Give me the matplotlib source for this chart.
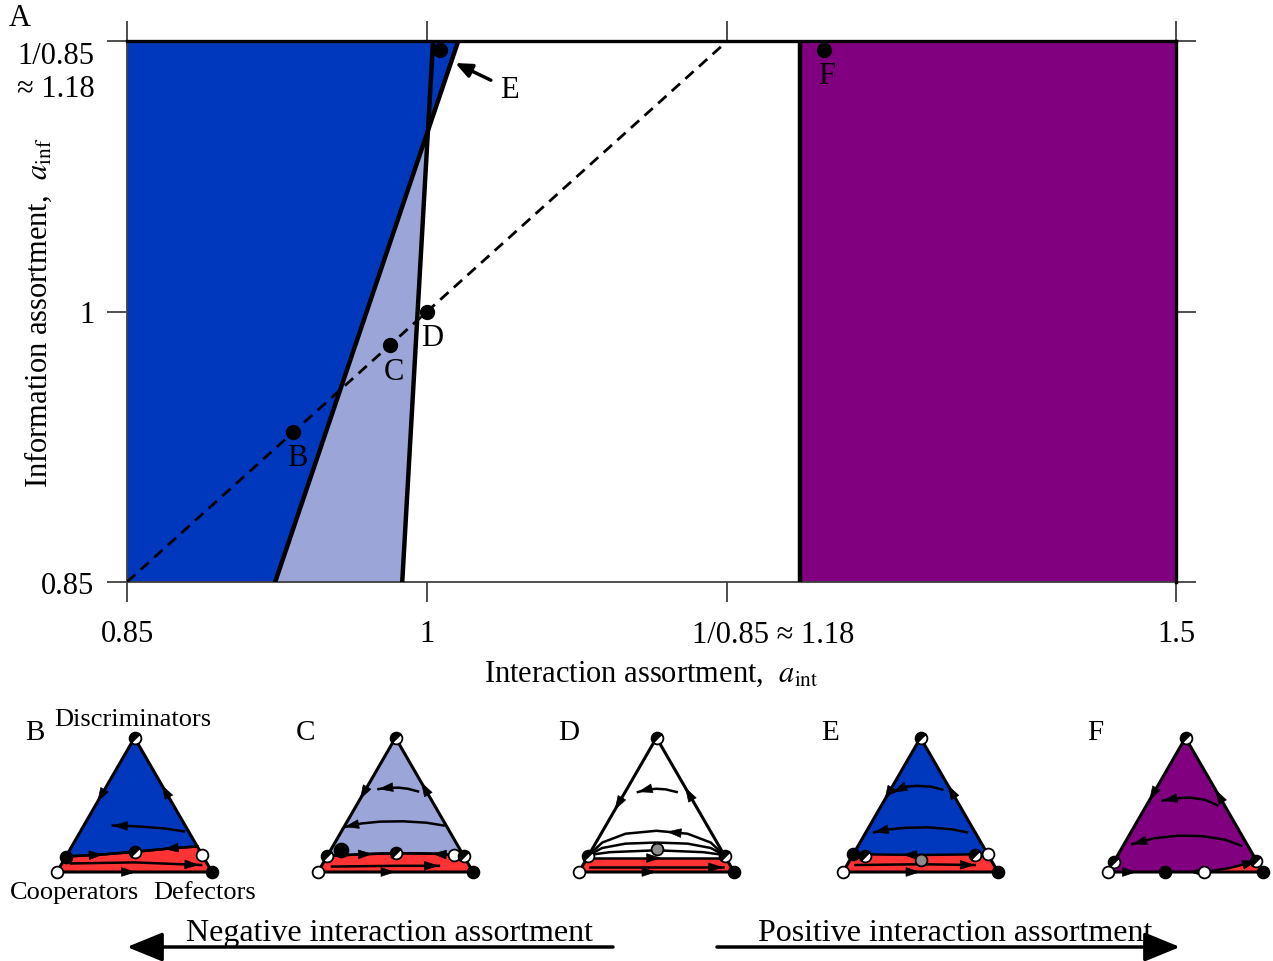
import numpy as np
import matplotlib

matplotlib.use("Agg")
import matplotlib.pyplot as plt
from matplotlib import ticker
from matplotlib.markers import MarkerStyle
from matplotlib.patches import FancyArrowPatch
from matplotlib.transforms import Affine2D

plt.rcParams["font.family"] = ["Liberation Serif", "DejaVu Serif"]
plt.rcParams["mathtext.fontset"] = "stix"

W, H = 1273, 962
BLUE = "#0038bd"
LIGHT = "#9ba5d7"
PURPLE = "#800080"
RED = "#ff3333"
GRID = "#404040"

# ---- panel A: regions in the (a_int, a_inf) plane, both axes logarithmic ----
A_LO = 0.85
A_HI_X = 1.5
A_HI_Y = 1 / 0.85
LINE1_X = [0.921, 1.017]    # dark/light blue boundary, at a_inf = A_LO and A_HI_Y
LINE2_X = [0.9866, 1.0032]  # light blue/white boundary
PURPLE_X0 = 1.224
PT_NAMES = ["B", "C", "D", "E", "F"]
PT_X = [0.93, 0.98, 1.0, 1.007, 1.24]
PT_Y = [0.93, 0.98, 1.0, 1.17, 1.17]
PT_LABEL_OFF = [(4, -25), (4, -26), (5, -26), None, (2, -25)]
E_ARROW_TIP = (1.0153, 1.161)

XTICKS = [0.85, 1.0, 1 / 0.85, 1.5]
XTICK_LABELS = ["0.85", "1", "", "1.5"]
YTICKS = [0.85, 1.0, 1 / 0.85]
YTICK_LABELS = ["0.85", "1", "1/0.85\n\u2248 1.18"]

# ---- panels B-F: phase portraits on the simplex (unit side, coords u, v) ----
S3 = np.sqrt(3) / 2
TOP, BL, BR = (0.5, S3), (0.0, 0.0), (1.0, 0.0)
EDGES = {"left": [TOP, BL], "right": [BR, TOP], "bottom": [BL, BR]}

PANEL_LEFT_PX = [57, 318, 579, 843, 1108]
PANEL_FILL = [BLUE, LIGHT, "white", BLUE, PURPLE]
PANEL_LETTER_U = [-0.14, -0.08, -0.065, -0.085, -0.08]

# upper edge of the red (defector) basin
SEP_B = [(0.058, 0.10), (0.28, 0.112), (0.5, 0.13), (0.74, 0.153), (0.905, 0.165)]
SEP_C = [(0.06, 0.104), (0.3, 0.115), (0.5, 0.122), (0.75, 0.118), (0.94, 0.104)]
SEP_D = [(0.052, 0.09), (0.5, 0.09), (0.948, 0.09)]
SEP_E = [(0.066, 0.115), (0.3, 0.112), (0.5, 0.11), (0.7, 0.112), (0.934, 0.115)]
SEP_F = [(0.62, 0.0), (0.78, 0.025), (0.9, 0.055), (0.958, 0.072)]
SEPS = [SEP_B, SEP_C, SEP_D, SEP_E, SEP_F]

# trajectories: (points, arrowhead position along curve, direction)
FLOWS_B = [
    (SEP_B, 0.25, 1), (SEP_B, 0.78, -1),
    ([(0.09, 0.055), (0.5, 0.062), (0.93, 0.045)], 0.95, 1),
    ([(0.82, 0.262), (0.7, 0.28), (0.58, 0.29), (0.46, 0.297), (0.36, 0.30)], 1.0, 1),
]
FLOWS_C = [
    (SEP_C, 0.3, 1), (SEP_C, 0.8, -1),
    ([(0.09, 0.035), (0.5, 0.04), (0.78, 0.04)], 1.0, 1),
    ([(0.645, 0.52), (0.58, 0.537), (0.52, 0.544), (0.45, 0.543), (0.39, 0.535)], 1.0, 1),
    ([(0.81, 0.30), (0.7, 0.318), (0.55, 0.327), (0.4, 0.325), (0.28, 0.313),
      (0.17, 0.29)], 1.0, 1),
]
FLOWS_D = [
    (SEP_D, 0.5, 1),
    ([(0.07, 0.03), (0.93, 0.03)], 1.0, 1),
    ([(0.065, 0.11), (0.15, 0.19), (0.3, 0.247), (0.5, 0.266), (0.7, 0.247),
      (0.85, 0.19), (0.935, 0.11)], 0.6, -1),
    ([(0.065, 0.11), (0.15, 0.155), (0.3, 0.183), (0.5, 0.19), (0.7, 0.183),
      (0.85, 0.155), (0.935, 0.11)], None, 1),
    ([(0.065, 0.11), (0.2, 0.128), (0.5, 0.14), (0.8, 0.128), (0.935, 0.11)], None, 1),
    ([(0.63, 0.516), (0.56, 0.533), (0.5, 0.537), (0.44, 0.532), (0.38, 0.516)], 1.0, 1),
]
FLOWS_E = [
    (SEP_E, 0.4, -1),
    ([(0.08, 0.045), (0.5, 0.05), (0.85, 0.045)], 1.0, 1),
    ([(0.64, 0.532), (0.57, 0.55), (0.48, 0.556), (0.4, 0.55), (0.32, 0.513)], 1.0, 1),
    ([(0.80, 0.256), (0.7, 0.276), (0.55, 0.288), (0.4, 0.285), (0.28, 0.273),
      (0.2, 0.256)], 1.0, 1),
]
FLOWS_F = [
    (SEP_F, 0.92, 1),
    ([(0.706, 0.43), (0.63, 0.465), (0.53, 0.48), (0.44, 0.476), (0.353, 0.46)], 1.0, 1),
    ([(0.86, 0.17), (0.75, 0.21), (0.6, 0.232), (0.45, 0.234), (0.3, 0.218),
      (0.157, 0.18)], 1.0, 1),
]
FLOWS = [FLOWS_B, FLOWS_C, FLOWS_D, FLOWS_E, FLOWS_F]

# arrowheads on the simplex edges: (edge, position, direction)
EDGE_HEADS_B = [("left", 0.45, 1), ("right", 0.62, 1), ("bottom", 0.48, 1)]
EDGE_HEADS_C = [("left", 0.43, 1), ("right", 0.64, 1), ("bottom", 0.47, 1)]
EDGE_HEADS_D = [("left", 0.51, 1), ("right", 0.60, 1), ("bottom", 0.47, 1)]
EDGE_HEADS_E = [("left", 0.434, 1), ("right", 0.618, 1), ("bottom", 0.47, 1)]
EDGE_HEADS_F = [("left", 0.438, 1), ("right", 0.584, 1), ("bottom", 0.157, 1),
                ("bottom", 0.555, -1)]
EDGE_HEADS = [EDGE_HEADS_B, EDGE_HEADS_C, EDGE_HEADS_D, EDGE_HEADS_E, EDGE_HEADS_F]

# fixed points: (u, v, kind)
DOTS_B = [(0.5, S3, "half"), (0.058, 0.10, "black"), (0.5, 0.13, "half"),
          (0.936, 0.11, "white"), (0, 0, "white"), (1, 0, "black")]
DOTS_C = [(0.5, S3, "half"), (0.06, 0.104, "half"), (0.149, 0.143, "big"),
          (0.5, 0.122, "half"), (0.875, 0.11, "white"), (0.94, 0.104, "half"),
          (0, 0, "white"), (1, 0, "black")]
DOTS_D = [(0.5, S3, "half"), (0.06, 0.105, "half"), (0.94, 0.105, "half"),
          (0.5, 0.148, "gray"), (0, 0, "white"), (1, 0, "black")]
DOTS_E = [(0.5, S3, "half"), (0.066, 0.115, "black"), (0.14, 0.105, "half"),
          (0.5, 0.08, "gray"), (0.85, 0.108, "half"), (0.934, 0.115, "white"),
          (0, 0, "white"), (1, 0, "black")]
DOTS_F = [(0.5, S3, "half"), (0.0375, 0.065, "half"), (0.37, 0, "black"),
          (0.62, 0, "white"), (0.958, 0.072, "half"), (0, 0, "white"), (1, 0, "black")]
DOTS = [DOTS_B, DOTS_C, DOTS_D, DOTS_E, DOTS_F]

SIDE = 155
BASE_PX = 873


def along(pts, t):
    p = np.asarray(pts, float)
    seg = np.diff(p, axis=0)
    seglen = np.hypot(seg[:, 0], seg[:, 1])
    cum = np.cumsum(seglen)
    s = t * cum[-1]
    i = min(int(np.searchsorted(cum, s)), len(seglen) - 1)
    f = (s - (cum[i] - seglen[i])) / seglen[i]
    return p[i] + f * seg[i], seg[i] / seglen[i]


def head(ax, pts, t, sign=1):
    pos, d = along(pts, t)
    d = d * sign
    tip = pos if t >= 1 else pos + 0.03 * d
    ax.annotate("", xy=tip, xytext=tip - 0.05 * d,
                arrowprops=dict(arrowstyle="-|>,head_length=0.8,head_width=0.26",
                                color="k", lw=0.5, shrinkA=0, shrinkB=0,
                                mutation_scale=12), zorder=4)


HALF = MarkerStyle("o", fillstyle="left", transform=Affine2D().rotate_deg(-45))


def dot(ax, u, v, kind):
    kw = dict(ms=8.5, mec="k", mew=1.3, zorder=6, clip_on=False)
    if kind == "half":
        ax.plot(u, v, marker=HALF, mfc="k", markerfacecoloralt="w", **kw)
    elif kind == "big":
        ax.plot(u, v, "o", mfc="k", **{**kw, "ms": 10})
    else:
        face = {"black": "k", "white": "w", "gray": "#8c8c8c"}[kind]
        ax.plot(u, v, "o", mfc=face, **kw)


fig = plt.figure(figsize=(W / 100, H / 100), dpi=100)

# ---------------- panel A ----------------
ax = fig.add_axes([127 / W, 1 - 583 / H, (1176 - 127) / W, (583 - 42) / H])
ax.set_xscale("log")
ax.set_yscale("log")
ax.set_xlim(A_LO, A_HI_X)
ax.set_ylim(A_LO, A_HI_Y)

ax.fill([LINE1_X[0], LINE2_X[0], LINE2_X[1], LINE1_X[1]],
        [A_LO, A_LO, A_HI_Y, A_HI_Y], color=LIGHT, lw=0, zorder=1)
ax.fill([A_LO, LINE1_X[0], LINE1_X[1], A_LO], [A_LO, A_LO, A_HI_Y, A_HI_Y],
        color=BLUE, lw=0, zorder=2)
ax.axvspan(PURPLE_X0, A_HI_X, color=PURPLE, lw=0, zorder=1)

ax.plot(LINE1_X, [A_LO, A_HI_Y], color="k", lw=3.2, zorder=3)
ax.plot(LINE2_X, [A_LO, A_HI_Y], color="k", lw=3.2, zorder=3)
ax.axvline(PURPLE_X0, color="k", lw=3.2, zorder=3)
ax.axhline(A_HI_Y, color="k", lw=2.4, zorder=3, clip_on=False)
ax.axvline(A_HI_X, color="k", lw=2.4, zorder=3, clip_on=False)
ax.plot([A_LO, A_HI_Y], [A_LO, A_HI_Y], color="k", lw=2, dashes=(4, 2.6), zorder=3)

ax.plot(PT_X, PT_Y, "o", color="k", ms=10, zorder=5, clip_on=False)
for name, x, y, off in zip(PT_NAMES, PT_X, PT_Y, PT_LABEL_OFF):
    if off is None:
        continue
    ax.annotate(name, (x, y), xytext=off, textcoords="offset pixels",
                ha="center", va="center", fontsize=22, zorder=6)
ax.annotate("E", E_ARROW_TIP, xytext=(54, -26), textcoords="offset pixels",
            ha="center", va="center", fontsize=22, zorder=6,
            arrowprops=dict(arrowstyle="-|>,head_length=0.7,head_width=0.3",
                            color="k", lw=2.5, shrinkA=5, shrinkB=0,
                            mutation_scale=14))

for side in ("top", "bottom", "left", "right"):
    ax.spines[side].set_color(GRID)
    ax.spines[side].set_linewidth(1.3)
ax.set_xticks(XTICKS, XTICK_LABELS)
ax.set_yticks(YTICKS, YTICK_LABELS)
ax.xaxis.set_minor_locator(ticker.NullLocator())
ax.yaxis.set_minor_locator(ticker.NullLocator())
ax.tick_params(which="both", direction="out", length=14.4, width=1.3, color=GRID,
               top=True, right=True, labelsize=22)
ax.tick_params(axis="x", pad=12)
ax.tick_params(axis="y", pad=9)
top_lab = ax.get_yticklabels()[-1]
top_lab.set_va("top")
top_lab.set_multialignment("center")
ax.annotate("1/0.85 \u2248 1.18", (1 / 0.85, 0), xycoords=("data", "axes fraction"),
            xytext=(-35, -53), textcoords="offset pixels", ha="left", va="center",
            fontsize=22)

ax.set_xlabel(r"Interaction assortment,  $a_{\mathrm{int}}$", fontsize=22)
ax.xaxis.set_label_coords(0.5, -0.142)
ax.set_ylabel(r"Information assortment,  $a_{\mathrm{inf}}$", fontsize=22)
ax.yaxis.set_label_coords(-0.07, 0.5)

fig.text(20 / W, 1 - 18 / H, "A", ha="center", va="center", fontsize=22)

# ---------------- panels B-F ----------------
for k, left_px in enumerate(PANEL_LEFT_PX):
    tx = fig.add_axes([(left_px - 0.25 * SIDE) / W, (H - BASE_PX - 0.2 * SIDE) / H,
                       1.5 * SIDE / W, 1.2 * SIDE / H])
    tx.set_xlim(-0.25, 1.25)
    tx.set_ylim(-0.2, 1.0)
    tx.axis("off")

    sep = SEPS[k]
    if k == 4:
        tx.fill(*zip(BL, BR, TOP), color=PANEL_FILL[k], lw=0, zorder=1)
        tx.fill(*zip(*(sep + [BR])), color=RED, lw=0, zorder=1.5)
    else:
        tx.fill(*zip(*([BL] + sep + [BR])), color=RED, lw=0, zorder=1)
        tx.fill(*zip(*(sep + [TOP])), color=PANEL_FILL[k], lw=0, zorder=1)
    tx.plot(*zip(BL, BR, TOP, BL), color="k", lw=2.2, zorder=3,
            solid_joinstyle="miter")

    for pts, t, sign in FLOWS[k]:
        tx.plot(*zip(*pts), color="k", lw=1.8, zorder=3)
        if t is not None:
            head(tx, pts, t, sign)
    for edge, t, sign in EDGE_HEADS[k]:
        head(tx, EDGES[edge], t, sign)
    for u, v, kind in DOTS[k]:
        dot(tx, u, v, kind)

    tx.text(PANEL_LETTER_U[k], 0.9, PT_NAMES[k], ha="center", va="center",
            fontsize=21)
    if k == 0:
        tx.text(0.49, 0.99, "Discriminators", ha="center", va="center", fontsize=19)
        tx.text(0.116, -0.13, "Cooperators", ha="center", va="center", fontsize=19)
        tx.text(0.955, -0.13, "Defectors", ha="center", va="center", fontsize=19)

# ---------------- direction arrows ----------------
for x0, x1, label, xc in [(613, 127, "Negative interaction assortment", 390),
                          (717, 1180, "Positive interaction assortment", 955)]:
    fig.add_artist(FancyArrowPatch((x0 / W, 1 - 948 / H), (x1 / W, 1 - 948 / H),
                                   transform=fig.transFigure,
                                   arrowstyle="-|>,head_length=1.1,head_width=0.45",
                                   mutation_scale=20, lw=2.5, color="k",
                                   shrinkA=0, shrinkB=0))
    fig.text(xc / W, 1 - 934 / H, label, ha="center", va="center", fontsize=23)

fig.savefig("out.png", dpi=100)
